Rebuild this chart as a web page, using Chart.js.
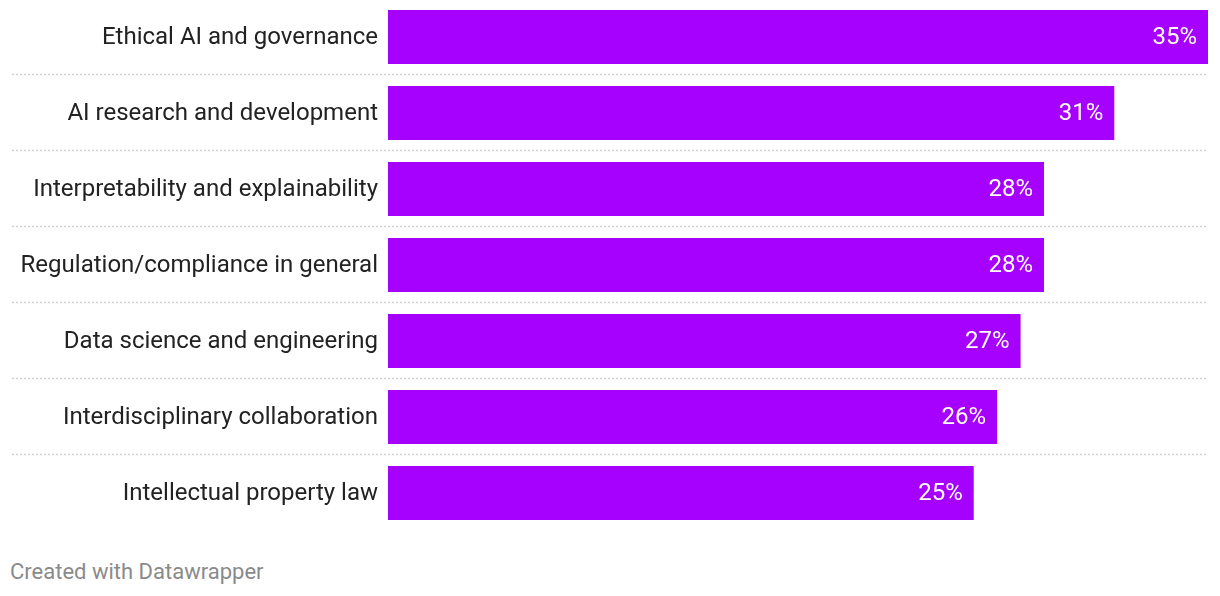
<!DOCTYPE html>
<html>
<head>
<meta charset="utf-8">
<script src="https://cdn.jsdelivr.net/npm/chart.js@4"></script>
<style>
  body { margin: 0; background: #fff; font-family: Roboto, sans-serif; }
  #wrap { position: absolute; left: 0; top: -1px; width: 1220px; height: 532px; }
  #note { position: absolute; left: 10px; top: 559px; font-size: 22px; color: #8a8a8a; }
</style>
</head>
<body>
<div id="wrap"><canvas id="myChart"></canvas></div>
<div id="note">Created with Datawrapper</div>
<script>
var topics = [
  'Ethical AI and governance',
  'AI research and development',
  'Interpretability and explainability',
  'Regulation/compliance in general',
  'Data science and engineering',
  'Interdisciplinary collaboration',
  'Intellectual property law'
];
var shares = [35, 31, 28, 28, 27, 26, 25];

// dotted lines between rows, across the label area too
var rowLines = {
  id: 'rowLines',
  beforeDatasetsDraw: function(chart) {
    var ctx = chart.ctx;
    var y = chart.scales.y;
    ctx.save();
    ctx.strokeStyle = '#d0d0d0';
    ctx.lineWidth = 1.5;
    ctx.setLineDash([2, 2]);
    for (var i = 0; i < topics.length - 1; i++) {
      var yy = Math.round((y.getPixelForTick(i) + y.getPixelForTick(i + 1)) / 2) - 0.5;
      ctx.beginPath();
      ctx.moveTo(12, yy);
      ctx.lineTo(chart.chartArea.right, yy);
      ctx.stroke();
    }
    ctx.restore();
  }
};

var valueLabels = {
  id: 'valueLabels',
  afterDatasetsDraw: function(chart) {
    var ctx = chart.ctx;
    var meta = chart.getDatasetMeta(0);
    ctx.save();
    ctx.fillStyle = '#ffffff';
    ctx.font = '24px Roboto';
    ctx.textAlign = 'right';
    ctx.textBaseline = 'middle';
    meta.data.forEach(function(bar, i) {
      ctx.fillText(shares[i] + '%', bar.x - 11, bar.y + 1);
    });
    ctx.restore();
  }
};

var ctx = document.getElementById('myChart');
new Chart(ctx, {
  type: 'bar',
  data: {
    labels: topics,
    datasets: [{
      data: shares,
      backgroundColor: '#a600ff',
      barPercentage: 54 / 76,
      categoryPercentage: 1
    }]
  },
  options: {
    indexAxis: 'y',
    responsive: true,
    maintainAspectRatio: false,
    animation: false,
    layout: { padding: { left: 0, right: 12, top: 0, bottom: 0 } },
    plugins: { legend: { display: false }, tooltip: { enabled: false } },
    scales: {
      x: { display: false, min: 0, max: 35 },
      y: {
        afterFit: function(scale) {
          scale.width = 388;
          scale.paddingTop = 0;
          scale.paddingBottom = 0;
        },
        grid: { display: false, drawTicks: false },
        border: { display: false },
        ticks: {
          color: '#222',
          padding: 10,
          labelOffset: 1,
          font: { family: 'Roboto', size: 24 }
        }
      }
    }
  },
  plugins: [rowLines, valueLabels]
});
</script>
</body>
</html>
